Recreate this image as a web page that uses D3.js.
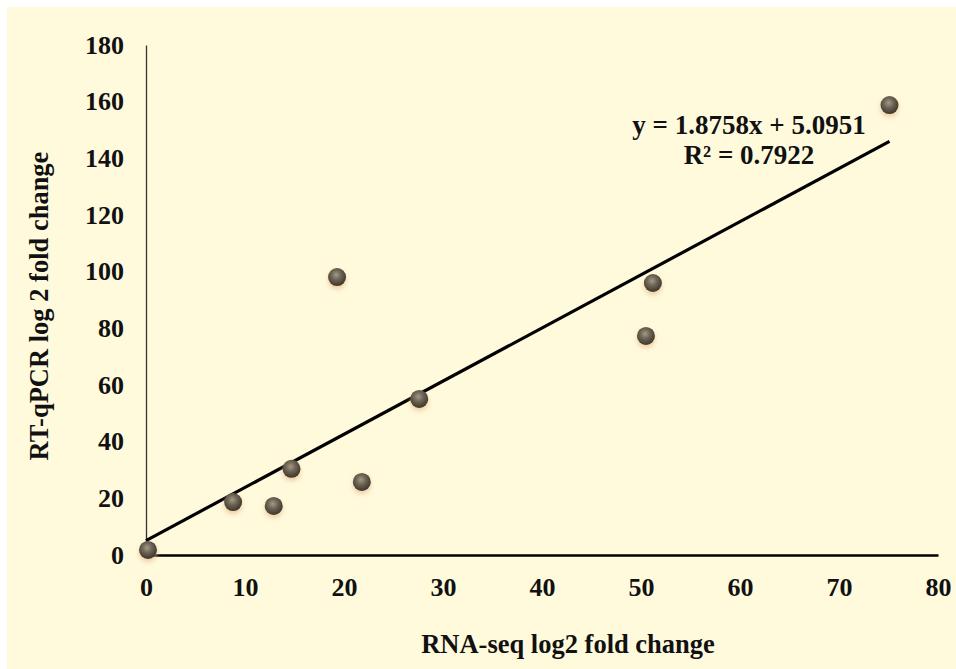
<!DOCTYPE html>
<html>
<head>
<meta charset="utf-8">
<script src="https://cdn.jsdelivr.net/npm/d3@7"></script>
<style>
  html, body { margin: 0; padding: 0; background: #ffffff; }
  svg text { font-family: "Liberation Serif", "Times New Roman", serif; font-weight: bold; fill: #111; }
</style>
</head>
<body>
<svg id="chart" width="956" height="669"></svg>
<script>
// RNA-seq vs RT-qPCR log2 fold change per gene
const rnaSeq = [0.2, 8.8, 12.9, 14.7, 19.3, 21.8, 27.6, 50.5, 51.2, 75.1];
const rtqPCR = [1.8, 18.7, 17.3, 30.4, 98.1, 25.8, 55.1, 77.3, 96.0, 158.8];
const xTicks = [0, 10, 20, 30, 40, 50, 60, 70, 80];
const yTicks = [0, 20, 40, 60, 80, 100, 120, 140, 160, 180];
const slope = 1.8758, intercept = 5.0951, r2 = 0.7922;

const svg = d3.select("#chart");
const W = 956, H = 669;

svg.append("rect").attr("x", 7).attr("y", 7).attr("width", W - 7).attr("height", H - 7)
  .attr("fill", "#fffadc");

const x = d3.scaleLinear().domain([0, 80]).range([146, 938]);
const y = d3.scaleLinear().domain([0, 180]).range([555, 45]);

const defs = svg.append("defs");
const grad = defs.append("radialGradient").attr("id", "ball")
  .attr("cx", "45%").attr("cy", "38%").attr("r", "60%");
grad.append("stop").attr("offset", "0%").attr("stop-color", "#a49a88");
grad.append("stop").attr("offset", "45%").attr("stop-color", "#6e6555");
grad.append("stop").attr("offset", "100%").attr("stop-color", "#3f382e");
const glow = defs.append("filter").attr("id", "glow")
  .attr("x", "-60%").attr("y", "-60%").attr("width", "220%").attr("height", "220%");
glow.append("feGaussianBlur").attr("stdDeviation", 2.5);

// axes
const yAxis = d3.axisLeft(y).tickValues(yTicks).tickSize(0).tickPadding(22);
const xAxis = d3.axisBottom(x).tickValues(xTicks).tickSize(0).tickPadding(23);

const gy = svg.append("g").attr("transform", `translate(${x(0)},0)`).call(yAxis);
gy.select(".domain").attr("stroke", "#333").attr("stroke-width", 1.3);
gy.selectAll("text").attr("font-size", 26).attr("font-family", "Liberation Serif").attr("font-weight", "bold").attr("fill", "#111");

const gx = svg.append("g").attr("transform", `translate(0,${y(0)})`).call(xAxis);
gx.select(".domain").attr("stroke", "#000").attr("stroke-width", 2.5);
gx.selectAll("text").attr("font-size", 26).attr("font-family", "Liberation Serif").attr("font-weight", "bold").attr("fill", "#111");

// trend line
const xEnd = d3.max(rnaSeq);
svg.append("line")
  .attr("x1", x(0)).attr("y1", y(intercept))
  .attr("x2", x(xEnd)).attr("y2", y(slope * xEnd + intercept))
  .attr("stroke", "#000").attr("stroke-width", 3.2);

// points
const pts = rnaSeq.map((v, i) => [v, rtqPCR[i]]);
svg.append("g").selectAll("circle.sh").data(pts).join("circle")
  .attr("cx", d => x(d[0])).attr("cy", d => y(d[1]) + 3).attr("r", 9)
  .attr("fill", "#e9b98a").attr("opacity", 0.7).attr("filter", "url(#glow)");
svg.append("g").selectAll("circle.pt").data(pts).join("circle")
  .attr("cx", d => x(d[0])).attr("cy", d => y(d[1])).attr("r", 9)
  .attr("fill", "url(#ball)");

// equation
svg.append("text").attr("x", 749).attr("y", 134).attr("text-anchor", "middle")
  .attr("font-size", 27).text(`y = ${slope}x + ${intercept}`);
svg.append("text").attr("x", 749).attr("y", 164).attr("text-anchor", "middle")
  .attr("font-size", 27).text(`R² = ${r2}`);

// axis titles
svg.append("text").attr("x", 568).attr("y", 653).attr("text-anchor", "middle")
  .attr("font-size", 26.5).text("RNA-seq log2 fold change");
svg.append("text").attr("transform", "translate(48,306) rotate(-90)").attr("text-anchor", "middle")
  .attr("font-size", 26.5).text("RT-qPCR log 2 fold change");
</script>
</body>
</html>
